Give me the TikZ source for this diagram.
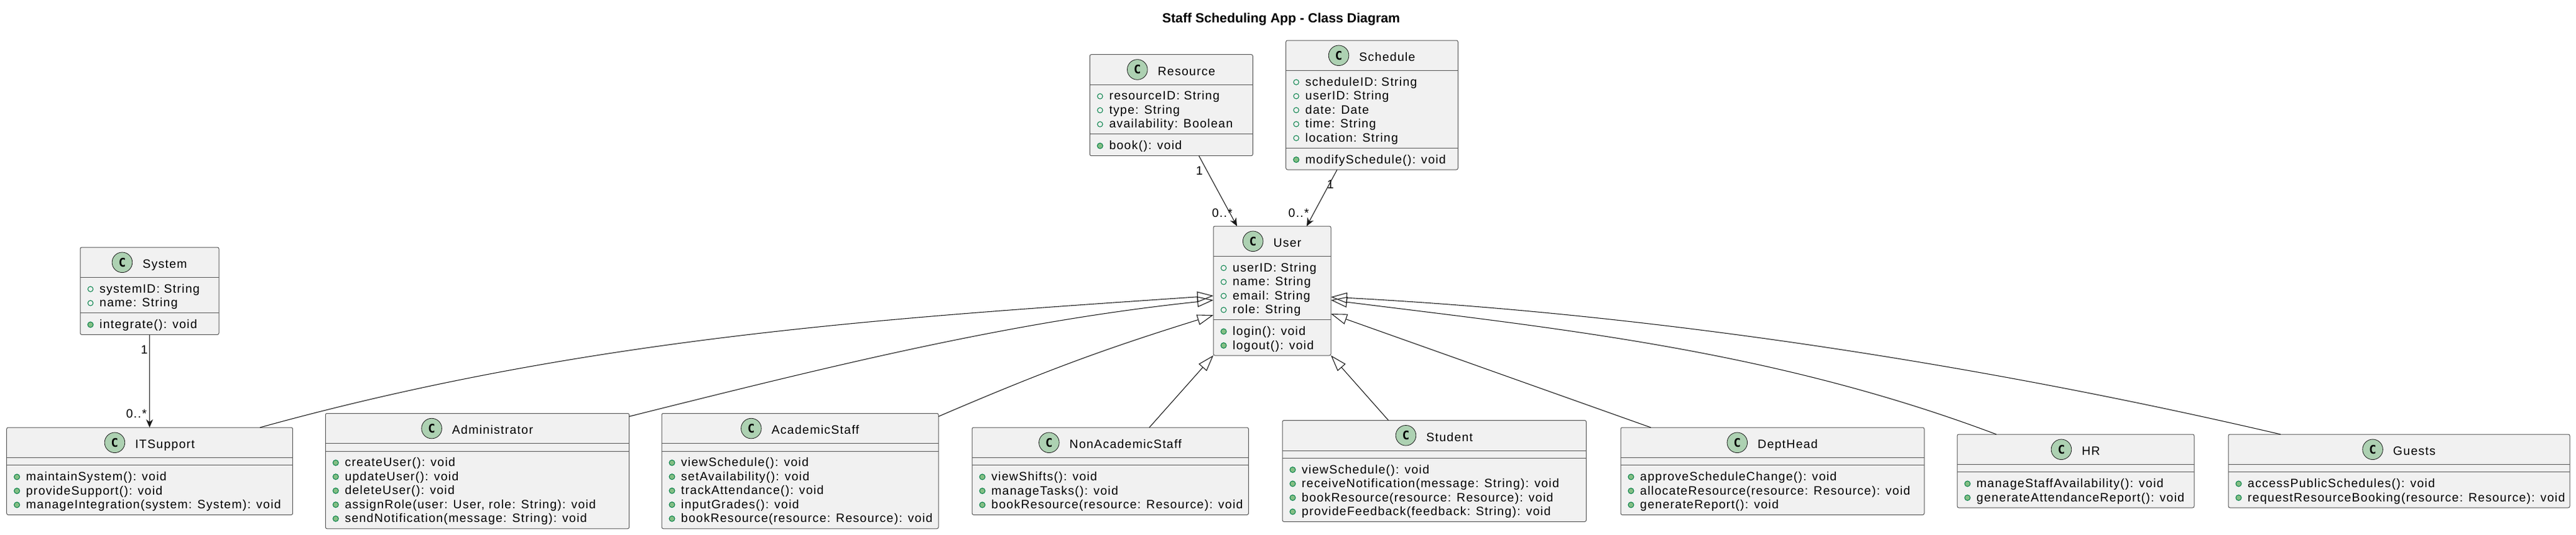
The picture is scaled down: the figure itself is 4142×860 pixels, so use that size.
\documentclass[tikz,border=0pt]{standalone}
\usepackage{fontspec}
\setmainfont{Liberation Sans}
\newfontfamily\umlfont[LetterSpace=6.5]{Liberation Sans}
\newfontfamily\spotfont{DejaVu Sans Mono}
\usetikzlibrary{arrows.meta}

\definecolor{boxfill}{HTML}{F1F1F1}
\definecolor{boxline}{HTML}{555555}
\definecolor{inkline}{HTML}{181818}
\definecolor{spotfill}{HTML}{ADD1B2}
\definecolor{dotline}{HTML}{038048}
\definecolor{dotfill}{HTML}{84BE84}

\tikzset{
  classbox/.style={rectangle, draw=boxline, fill=boxfill, line width=1pt,
    rounded corners=2.5pt, anchor=north west, inner sep=0pt, outer sep=0pt},
  sepline/.style={draw=boxline, line width=1pt},
  classname/.style={anchor=base, inner sep=0pt,
    font=\umlfont\fontsize{19.5}{22.5}\selectfont},
  spot/.style={circle, draw=inkline, fill=spotfill, line width=0.8pt,
    minimum size=32.6pt, inner sep=0pt,
    font=\spotfont\bfseries\fontsize{19}{19}\selectfont},
  member/.style={anchor=base west, inner sep=0pt,
    font=\umlfont\fontsize{19.5}{22.5}\selectfont},
  attrdot/.style={circle, draw=dotline, fill=boxfill, line width=1pt,
    minimum size=8.5pt, inner sep=0pt},
  methdot/.style={circle, draw=dotline, fill=dotfill, line width=1pt,
    minimum size=9pt, inner sep=0pt},
  mult/.style={inner sep=0pt, font=\umlfont\fontsize{19.5}{22.5}\selectfont},
  ext/.style={draw=inkline, line width=1.1pt,
    -{Triangle[open, length=26pt, width=17pt]}},
  assoc/.style={draw=inkline, line width=1.1pt,
    -{Stealth[length=13pt, width=11pt, inset=4pt]}},
  heading/.style={anchor=base, inner sep=0pt,
    font=\bfseries\fontsize{21.3}{24}\selectfont}
}

% #1 name, #2 top left, #3 width, #4 title,
% #5 number of fields, #6 fields, #7 number of methods, #8 methods
\newcommand{\umlclass}[8]{%
  \pgfmathsetmacro\attrH{#5*22.5+12.25}%
  \pgfmathsetmacro\methH{#7*22.5+12.25}%
  \pgfmathsetmacro\boxH{48.5+\attrH+\methH}%
  \pgfmathsetmacro\sepB{48.5+\attrH}%
  \node[classbox, minimum width=#3pt, minimum height=\boxH pt] (#1) at #2 {};
  \draw[sepline] ([yshift=-48.5pt]#1.north west) -- ([yshift=-48.5pt]#1.north east);
  \draw[sepline] ([yshift=-\sepB pt]#1.north west) -- ([yshift=-\sepB pt]#1.north east);
  \node[classname] (#1-name) at ([yshift=-33.5pt]#1.north) {\hspace{49pt}#4};
  \path (#1-name.west |- #1.north) ++(16.35pt,-24.3pt) node[spot] (#1-spot) {C};
  \ifnum#5>0\relax
    \foreach \m [count=\i] in {#6} {
      \path (#1.north west) ++(16.5pt,{-(48.5+18.75+(\i-1)*22.5)*1pt}) node[attrdot] {};
      \path (#1.north west) ++(31pt,{-(48.5+24.75+(\i-1)*22.5)*1pt}) node[member] {\m};
    }
  \fi
  \foreach \m [count=\i] in {#8} {
    \path (#1.north west) ++(16.5pt,{-(\sepB+18.75+(\i-1)*22.5)*1pt}) node[methdot] {};
    \path (#1.north west) ++(31pt,{-(\sepB+24.75+(\i-1)*22.5)*1pt}) node[member] {\m};
  }%
}

\begin{document}
\begin{tikzpicture}[x=1pt, y=-1pt]

  \useasboundingbox (0,0) rectangle (4142,860);

  \node[heading] (title) at (2060,36) {Staff Scheduling App - Class Diagram};

  % top row
  \umlclass{resource}{(1752.3,87.7)}{262}{Resource}{3}
    {{resourceID: String},{type: String},{availability: Boolean}}
    {1}{{book(): void}}
  \umlclass{schedule}{(2067.7,65)}{276.6}{Schedule}{5}
    {{scheduleID: String},{userID: String},{date: Date},{time: String},{location: String}}
    {1}{{modifySchedule(): void}}

  % middle row
  \umlclass{system}{(129,398)}{223}{System}{2}
    {{systemID: String},{name: String}}
    {1}{{integrate(): void}}
  \umlclass{user}{(1951,364)}{189}{User}{4}
    {{userID: String},{name: String},{email: String},{role: String}}
    {2}{{login(): void},{logout(): void}}

  % bottom row
  \umlclass{itsupport}{(10.7,688)}{460}{ITSupport}{0}{}
    {3}{{maintainSystem(): void},{provideSupport(): void},{manageIntegration(system: System): void}}
  \umlclass{admin}{(523.3,665.25)}{488.4}{Administrator}{0}{}
    {5}{{createUser(): void},{updateUser(): void},{deleteUser(): void},
        {assignRole(user: User, role: String): void},{sendNotification(message: String): void}}
  \umlclass{academic}{(1064,665.25)}{445}{AcademicStaff}{0}{}
    {5}{{viewSchedule(): void},{setAvailability(): void},{trackAttendance(): void},
        {inputGrades(): void},{bookResource(resource: Resource): void}}
  \umlclass{nonacademic}{(1563,688)}{444.5}{NonAcademicStaff}{0}{}
    {3}{{viewShifts(): void},{manageTasks(): void},{bookResource(resource: Resource): void}}
  \umlclass{student}{(2062,676.5)}{488.5}{Student}{0}{}
    {4}{{viewSchedule(): void},{receiveNotification(message: String): void},
        {bookResource(resource: Resource): void},{provideFeedback(feedback: String): void}}
  \umlclass{depthead}{(2606,688)}{488}{DeptHead}{0}{}
    {3}{{approveScheduleChange(): void},{allocateResource(resource: Resource): void},{generateReport(): void}}
  \umlclass{hr}{(3147,699)}{381}{HR}{0}{}
    {2}{{manageStaffAvailability(): void},{generateAttendanceReport(): void}}
  \umlclass{guests}{(3583,699)}{549}{Guests}{0}{}
    {2}{{accessPublicSchedules(): void},{requestResourceBooking(resource: Resource): void}}

  % associations
  \draw[assoc] ([xshift=175.4pt]resource.south west) --
    node[mult, pos=0.21, anchor=east, xshift=-6pt] {1}
    node[mult, pos=0.81, anchor=east, xshift=5pt] {0..*}
    ([xshift=38pt]user.north west);
  \draw[assoc] ([xshift=82.3pt]schedule.south west) --
    node[mult, pos=0.26, xshift=2pt] {1}
    node[mult, pos=0.77, anchor=east, xshift=-7pt] {0..*}
    ([xshift=150pt]user.north west);
  \draw[assoc] (system.south) --
    node[mult, pos=0.16, anchor=east, xshift=-2.5pt] {1}
    node[mult, pos=0.85, anchor=east, xshift=-4pt] {0..*}
    (system.south |- itsupport.north);

  % generalizations
  \draw[ext] ([xshift=407.3pt]itsupport.north west)
    .. controls (948,541) and (1441,511) .. ([yshift=-112pt]user.north west);
  \draw[ext] ([yshift=-5pt]admin.north east)
    .. controls (1332,590) and (1623,517.5) .. ([yshift=-119pt]user.north west);
  \draw[ext] ([yshift=-5pt]academic.north east) to[bend left=3] ([yshift=-143pt]user.north west);
  \draw[ext] ([xshift=285pt]nonacademic.north west) -- (user.south west);
  \draw[ext] ([xshift=170.5pt]student.north west) -- (user.south east);
  \draw[ext] ([xshift=48.4pt]depthead.north west) -- ([yshift=-141pt]user.north east);
  \draw[ext] ([xshift=63pt]hr.north west)
    .. controls (2854,565) and (2517,530) .. ([yshift=-119pt]user.north east);
  \draw[ext] ([xshift=84pt]guests.north west)
    .. controls (3170,583) and (2649,505) .. ([yshift=-114pt]user.north east);

\end{tikzpicture}
\end{document}
